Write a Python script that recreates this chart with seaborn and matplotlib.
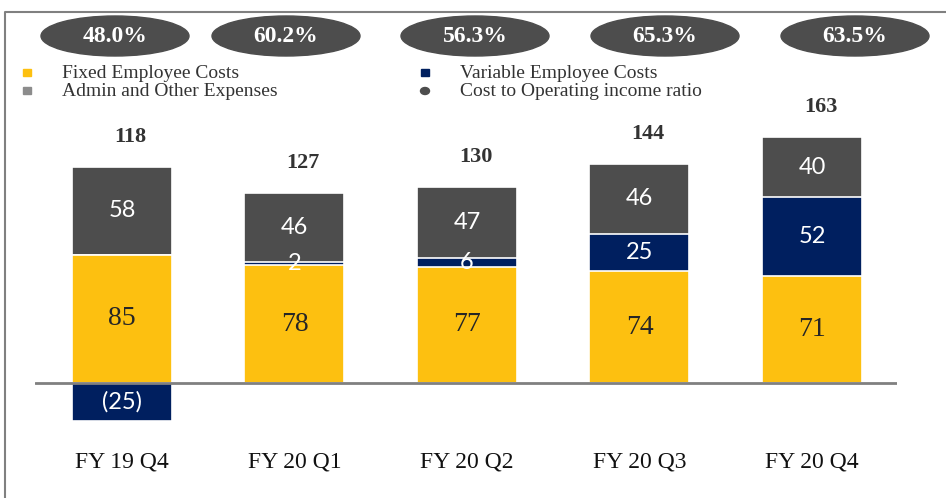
import matplotlib
matplotlib.use("Agg")
import matplotlib.pyplot as plt
from matplotlib.patches import Ellipse, Rectangle
from matplotlib.lines import Line2D
import seaborn as sns

# data
quarters = ["FY 19 Q4", "FY 20 Q1", "FY 20 Q2", "FY 20 Q3", "FY 20 Q4"]
fixed_costs = [85, 78, 77, 74, 71]
variable_costs = [-25, 2, 6, 25, 52]
admin_costs = [58, 46, 47, 46, 40]
totals = [118, 127, 130, 144, 163]
cost_ratio = ["48.0%", "60.2%", "56.3%", "65.3%", "63.5%"]

YELLOW = "#FDC010"
NAVY = "#001F5F"
GRAY = "#4D4D4D"
LINE = "#808080"
SERIF = "Liberation Serif"
SANS = "Lato"

sns.set_theme(style="white")
plt.rcParams["font.family"] = [SERIF, "DejaVu Sans"]

W, H = 946, 498
fig = plt.figure(figsize=(W / 100, H / 100), dpi=100)

def fx(px):
    return px / W

def fy(py):
    return 1 - py / H

# axes area in pixels: x 35..897, y 100..498
ax = fig.add_axes([fx(35), 0, fx(897) - fx(35), (H - 100) / H])

pos_var = [max(v, 0) for v in variable_costs]
neg_var = [min(v, 0) for v in variable_costs]
top_admin = [f + p + a for f, p, a in zip(fixed_costs, pos_var, admin_costs)]
top_var = [f + p for f, p in zip(fixed_costs, pos_var)]

# stacked look by overlaying cumulative bars
bar_kw = dict(width=0.58, saturation=1, edgecolor="white", linewidth=1.2, ax=ax)
sns.barplot(x=quarters, y=top_admin, color=GRAY, **bar_kw)
sns.barplot(x=quarters, y=top_var, color=NAVY, **bar_kw)
sns.barplot(x=quarters, y=fixed_costs, color=YELLOW, **bar_kw)
sns.barplot(x=quarters, y=neg_var, color=NAVY, **bar_kw)

px_per_unit = 1.51
ax.set_xlim(-0.504, 4.493)
ax.set_ylim(-(498 - 383) / px_per_unit, (383 - 100) / px_per_unit)
ax.axhline(0, color=LINE, lw=2)
ax.set_axis_off()

for i, q in enumerate(quarters):
    f, v, a = fixed_costs[i], variable_costs[i], admin_costs[i]
    ax.text(i, f / 2, str(f), ha="center", va="center", fontsize=20,
            color="#262626", family=SERIF)
    if v < 0:
        ax.text(i, v / 2, f"({abs(v)})", ha="center", va="center",
                fontsize=17, color="white", family=SANS)
    else:
        ax.text(i, f + v / 2, str(v), ha="center", va="center",
                fontsize=17, color="white", family=SANS)
    ax.text(i, f + pos_var[i] + a / 2, str(a), ha="center", va="center",
            fontsize=17, color="white", family=SANS)
    ax.text(i + 0.05, top_admin[i] + 20, str(totals[i]), ha="center",
            va="center", fontsize=16, fontweight="bold", color="#333333",
            family=SERIF, clip_on=False)
    ax.text(i, -52, q, ha="center", va="center", fontsize=17,
            color="#111111", family=SERIF)

# ratio ellipses across the top
ell_x = [115, 286, 475, 665, 855]
for cx, r in zip(ell_x, cost_ratio):
    fig.patches.append(Ellipse((fx(cx), fy(36)), fx(148), 40 / H,
                               transform=fig.transFigure, color=GRAY))
    fig.text(fx(cx), fy(37), r, ha="center", va="center", color="white",
             fontsize=17, fontweight="bold", family=SERIF)

# legend
legend_items = [
    (27, 73, YELLOW, "Fixed Employee Costs", "sq"),
    (27, 91, "#8C8C8C", "Admin and Other Expenses", "sq"),
    (425, 73, NAVY, "Variable Employee Costs", "sq"),
    (425, 91, GRAY, "Cost to Operating income ratio", "dot"),
]
for mx, my, col, label, kind in legend_items:
    if kind == "sq":
        fig.patches.append(Rectangle((fx(mx - 4), fy(my + 3)), fx(8), 7 / H,
                                     transform=fig.transFigure, color=col))
    else:
        fig.patches.append(Ellipse((fx(mx), fy(my)), fx(9), 7 / H,
                                   transform=fig.transFigure, color=col))
    fig.text(fx(mx + 35), fy(my), label, ha="left", va="center",
             fontsize=14, color="#333333", family=SERIF)

# frame on left and top
fig.add_artist(Line2D([fx(5), fx(5), fx(946)], [0, fy(12), fy(12)],
                      color=LINE, lw=1.5, transform=fig.transFigure))

fig.savefig("out.png", dpi=100)
